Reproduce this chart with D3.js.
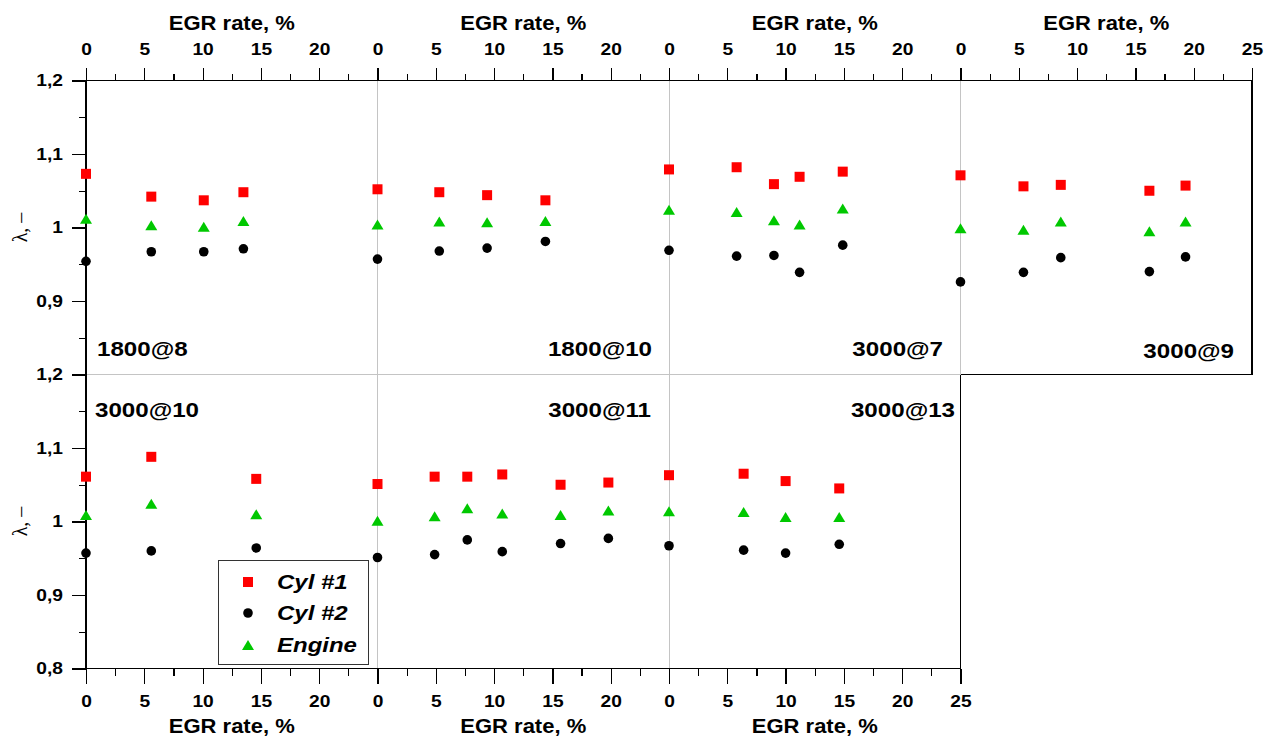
<!DOCTYPE html>
<html>
<head>
<meta charset="utf-8">
<script src="https://cdn.jsdelivr.net/npm/d3@7"></script>
<style>
  html, body { margin: 0; padding: 0; background: #fff; }
  svg { display: block; }
</style>
</head>
<body>
<svg id="chart" width="1273" height="738"></svg>
<script>
// ---------------- DATA ----------------
const panelLabels = ["1800@8", "1800@10", "3000@7", "3000@9", "3000@10", "3000@11", "3000@13"];
const seriesNames = ["Cyl #1", "Cyl #2", "Engine"];

const egr_1800_8   = [0, 5.6, 10.1, 13.5];
const cyl1_1800_8  = [1.073, 1.042, 1.037, 1.048];
const cyl2_1800_8  = [0.954, 0.967, 0.967, 0.971];
const eng_1800_8   = [1.012, 1.003, 1.001, 1.009];

const egr_1800_10  = [0, 5.3, 9.4, 14.4];
const cyl1_1800_10 = [1.052, 1.048, 1.044, 1.037];
const cyl2_1800_10 = [0.957, 0.968, 0.972, 0.981];
const eng_1800_10  = [1.004, 1.008, 1.007, 1.009];

const egr_3000_7   = [0, 5.8, 9.0, 11.2, 14.9];
const cyl1_3000_7  = [1.079, 1.082, 1.059, 1.069, 1.076];
const cyl2_3000_7  = [0.969, 0.961, 0.962, 0.939, 0.976];
const eng_3000_7   = [1.024, 1.021, 1.010, 1.004, 1.026];

const egr_3000_9   = [0, 5.4, 8.6, 16.2, 19.3];
const cyl1_3000_9  = [1.071, 1.056, 1.058, 1.050, 1.057];
const cyl2_3000_9  = [0.926, 0.939, 0.959, 0.940, 0.960];
const eng_3000_9   = [0.999, 0.997, 1.008, 0.995, 1.008];

const egr_3000_10  = [0, 5.6, 14.6];
const cyl1_3000_10 = [1.061, 1.088, 1.058];
const cyl2_3000_10 = [0.957, 0.960, 0.964];
const eng_3000_10  = [1.009, 1.024, 1.010];

const egr_3000_11  = [0, 4.9, 7.7, 10.7, 15.7, 19.8];
const cyl1_3000_11 = [1.051, 1.061, 1.061, 1.064, 1.050, 1.053];
const cyl2_3000_11 = [0.951, 0.955, 0.975, 0.959, 0.970, 0.977];
const eng_3000_11  = [1.001, 1.007, 1.018, 1.011, 1.009, 1.015];

const egr_3000_13  = [0, 6.4, 10.0, 14.6];
const cyl1_3000_13 = [1.063, 1.065, 1.055, 1.045];
const cyl2_3000_13 = [0.967, 0.961, 0.957, 0.969];
const eng_3000_13  = [1.014, 1.013, 1.006, 1.006];

const xTicksShort = [0, 5, 10, 15, 20];
const xTicksLong  = [0, 5, 10, 15, 20, 25];
const xMinorTicks = [2.5, 7.5, 12.5, 17.5, 22.5];
const yTicksTop    = [0.9, 1.0, 1.1, 1.2];
const yTicksBottom = [0.8, 0.9, 1.0, 1.1, 1.2];
const yMinorTicks  = [0.85, 0.95, 1.05, 1.15];
const xTitle = "EGR rate, %";
const yTitle = "λ, –";

// ---------------- LAYOUT ----------------
const svg = d3.select("#chart");
const X0 = 86, PW = 291.5;
const TOP_Y0 = 80.5, MID_Y = 374.5, BOT_Y = 668.5;
const colors = { c1: "#ff0000", c2: "#000000", eng: "#00c800" };
const FONT = "'Liberation Sans', Arial, sans-serif";

const panels = [
  { label: panelLabels[0], row: 0, col: 0, egr: egr_1800_8,  c1: cyl1_1800_8,  c2: cyl2_1800_8,  eng: eng_1800_8 },
  { label: panelLabels[1], row: 0, col: 1, egr: egr_1800_10, c1: cyl1_1800_10, c2: cyl2_1800_10, eng: eng_1800_10 },
  { label: panelLabels[2], row: 0, col: 2, egr: egr_3000_7,  c1: cyl1_3000_7,  c2: cyl2_3000_7,  eng: eng_3000_7 },
  { label: panelLabels[3], row: 0, col: 3, egr: egr_3000_9,  c1: cyl1_3000_9,  c2: cyl2_3000_9,  eng: eng_3000_9 },
  { label: panelLabels[4], row: 1, col: 0, egr: egr_3000_10, c1: cyl1_3000_10, c2: cyl2_3000_10, eng: eng_3000_10 },
  { label: panelLabels[5], row: 1, col: 1, egr: egr_3000_11, c1: cyl1_3000_11, c2: cyl2_3000_11, eng: eng_3000_11 },
  { label: panelLabels[6], row: 1, col: 2, egr: egr_3000_13, c1: cyl1_3000_13, c2: cyl2_3000_13, eng: eng_3000_13 }
];

const xScale = col => d3.scaleLinear().domain([0, 25]).range([X0 + col * PW, X0 + (col + 1) * PW]);
const yTop = d3.scaleLinear().domain([0.8, 1.2]).range([MID_Y, TOP_Y0]);
const yBot = d3.scaleLinear().domain([0.8, 1.2]).range([BOT_Y, MID_Y]);
const yScale = row => row === 0 ? yTop : yBot;

const yFmt = d => (Math.abs(d - 1) < 1e-9 ? "1" : d3.format(".1f")(d).replace(".", ","));

function stretchTexts(sel, sx) {
  sel.selectAll("text").each(function () {
    const t = d3.select(this);
    const x = +(t.attr("x") || 0);
    t.attr("x", 0).attr("transform", `translate(${x},0) scale(${sx},1)`);
  });
}

function styleAxis(g, fontSize) {
  g.select(".domain").remove();
  g.selectAll("line").attr("stroke", "#000").attr("stroke-width", 1.2).attr("shape-rendering", "crispEdges");
  g.selectAll("text").attr("font-family", FONT).attr("font-weight", "bold")
    .attr("font-size", fontSize).attr("fill", "#000");
}

// ---------------- GRID / FRAME ----------------
const grid = svg.append("g").attr("stroke", "#c4c4c4").attr("stroke-width", 1).attr("shape-rendering", "crispEdges");
grid.append("line").attr("x1", X0 + PW).attr("x2", X0 + PW).attr("y1", TOP_Y0).attr("y2", BOT_Y);
grid.append("line").attr("x1", X0 + 2 * PW).attr("x2", X0 + 2 * PW).attr("y1", TOP_Y0).attr("y2", BOT_Y);
grid.append("line").attr("x1", X0 + 3 * PW).attr("x2", X0 + 3 * PW).attr("y1", TOP_Y0).attr("y2", MID_Y);
grid.append("line").attr("x1", X0).attr("x2", X0 + 3 * PW).attr("y1", MID_Y).attr("y2", MID_Y);

const frame = svg.append("g").attr("stroke", "#000").attr("stroke-width", 1.3).attr("shape-rendering", "crispEdges");
frame.append("line").attr("x1", X0).attr("x2", X0 + 4 * PW).attr("y1", TOP_Y0).attr("y2", TOP_Y0);
frame.append("line").attr("x1", X0).attr("x2", X0).attr("y1", TOP_Y0).attr("y2", BOT_Y);
frame.append("line").attr("x1", X0 + 4 * PW).attr("x2", X0 + 4 * PW).attr("y1", TOP_Y0).attr("y2", MID_Y);
frame.append("line").attr("x1", X0 + 3 * PW).attr("x2", X0 + 4 * PW).attr("y1", MID_Y).attr("y2", MID_Y);
frame.append("line").attr("x1", X0 + 3 * PW).attr("x2", X0 + 3 * PW).attr("y1", MID_Y).attr("y2", BOT_Y);
frame.append("line").attr("x1", X0).attr("x2", X0 + 3 * PW).attr("y1", BOT_Y).attr("y2", BOT_Y);

// ---------------- AXES ----------------
for (let col = 0; col < 4; col++) {
  const x = xScale(col);
  const major = svg.append("g").attr("transform", `translate(0,${TOP_Y0})`)
    .call(d3.axisTop(x).tickValues(col === 3 ? xTicksLong : xTicksShort)
      .tickSize(13).tickPadding(13).tickFormat(d3.format("d")));
  styleAxis(major, 16);
  stretchTexts(major, 1.2);
  const minor = svg.append("g").attr("transform", `translate(0,${TOP_Y0})`)
    .call(d3.axisTop(x).tickValues(xMinorTicks).tickSize(7).tickFormat(""));
  styleAxis(minor, 16);

  svg.append("text").attr("font-family", FONT).attr("font-weight", "bold").attr("font-size", 20)
    .attr("text-anchor", "middle")
    .attr("transform", `translate(${(x.range()[0] + x.range()[1]) / 2},30) scale(1.1,1)`)
    .text(xTitle);
}
for (let col = 0; col < 3; col++) {
  const x = xScale(col);
  const major = svg.append("g").attr("transform", `translate(0,${BOT_Y})`)
    .call(d3.axisBottom(x).tickValues(col === 2 ? xTicksLong : xTicksShort)
      .tickSize(15).tickPadding(12).tickFormat(d3.format("d")));
  styleAxis(major, 16);
  stretchTexts(major, 1.2);
  const minor = svg.append("g").attr("transform", `translate(0,${BOT_Y})`)
    .call(d3.axisBottom(x).tickValues(xMinorTicks).tickSize(7).tickFormat(""));
  styleAxis(minor, 16);

  svg.append("text").attr("font-family", FONT).attr("font-weight", "bold").attr("font-size", 20)
    .attr("text-anchor", "middle")
    .attr("transform", `translate(${(x.range()[0] + x.range()[1]) / 2},733) scale(1.1,1)`)
    .text(xTitle);
}

[[yTop, yTicksTop], [yBot, yTicksBottom]].forEach(([ys, tv]) => {
  const major = svg.append("g").attr("transform", `translate(${X0},0)`)
    .call(d3.axisLeft(ys).tickValues(tv).tickSize(14).tickPadding(9).tickFormat(yFmt));
  styleAxis(major, 16);
  stretchTexts(major, 1.2);
  const minor = svg.append("g").attr("transform", `translate(${X0},0)`)
    .call(d3.axisLeft(ys).tickValues(yMinorTicks).tickSize(7).tickFormat(""));
  styleAxis(minor, 16);

  const cy = (ys.range()[0] + ys.range()[1]) / 2;
  svg.append("text").attr("font-family", "'Liberation Serif', 'Times New Roman', serif")
    .attr("font-size", 20).attr("text-anchor", "middle")
    .attr("transform", `translate(27,${cy}) rotate(-90)`)
    .text(yTitle);
});

// ---------------- MARKERS ----------------
const SQ = 10, CR = 4.8, TW = 12, TH = 10;
function drawSquare(g, x, y) {
  g.append("rect").attr("x", x - SQ / 2).attr("y", y - SQ / 2).attr("width", SQ).attr("height", SQ).attr("fill", colors.c1);
}
function drawCircle(g, x, y) {
  g.append("circle").attr("cx", x).attr("cy", y).attr("r", CR).attr("fill", colors.c2);
}
function drawTriangle(g, x, y) {
  g.append("path").attr("d", `M${x},${y - TH / 2}L${x + TW / 2},${y + TH / 2}L${x - TW / 2},${y + TH / 2}Z`).attr("fill", colors.eng);
}

const marks = svg.append("g");
panels.forEach(p => {
  const x = xScale(p.col), y = yScale(p.row);
  p.egr.forEach((e, i) => {
    drawSquare(marks, x(e), y(p.c1[i]));
    drawTriangle(marks, x(e), y(p.eng[i]));
    drawCircle(marks, x(e), y(p.c2[i]));
  });
});

// ---------------- PANEL LABELS ----------------
const labelPos = [
  { anchor: "start", x: 97,   y: 356 },
  { anchor: "end",   x: 652,  y: 356 },
  { anchor: "end",   x: 943,  y: 356 },
  { anchor: "end",   x: 1234, y: 358 },
  { anchor: "start", x: 95,   y: 417 },
  { anchor: "end",   x: 651,  y: 417 },
  { anchor: "end",   x: 955,  y: 417 }
];
panels.forEach((p, i) => {
  const lp = labelPos[i];
  svg.append("text").attr("font-family", FONT).attr("font-weight", "bold").attr("font-size", 21)
    .attr("text-anchor", lp.anchor)
    .attr("transform", `translate(${lp.x},${lp.y}) scale(1.15,1)`)
    .text(p.label);
});

// ---------------- LEGEND ----------------
const lg = svg.append("g");
lg.append("rect").attr("x", 218.5).attr("y", 560.5).attr("width", 150).attr("height", 104)
  .attr("fill", "#fff").attr("stroke", "#333").attr("stroke-width", 1);
const legY = [582, 613, 645];
const legDraw = [drawSquare, drawCircle, drawTriangle];
seriesNames.forEach((n, i) => {
  legDraw[i](lg, 248, legY[i]);
  lg.append("text").attr("font-family", FONT).attr("font-weight", "bold").attr("font-style", "italic")
    .attr("font-size", 20)
    .attr("transform", `translate(277,${legY[i] + 7}) scale(1.2,1)`)
    .text(n);
});
</script>
</body>
</html>
